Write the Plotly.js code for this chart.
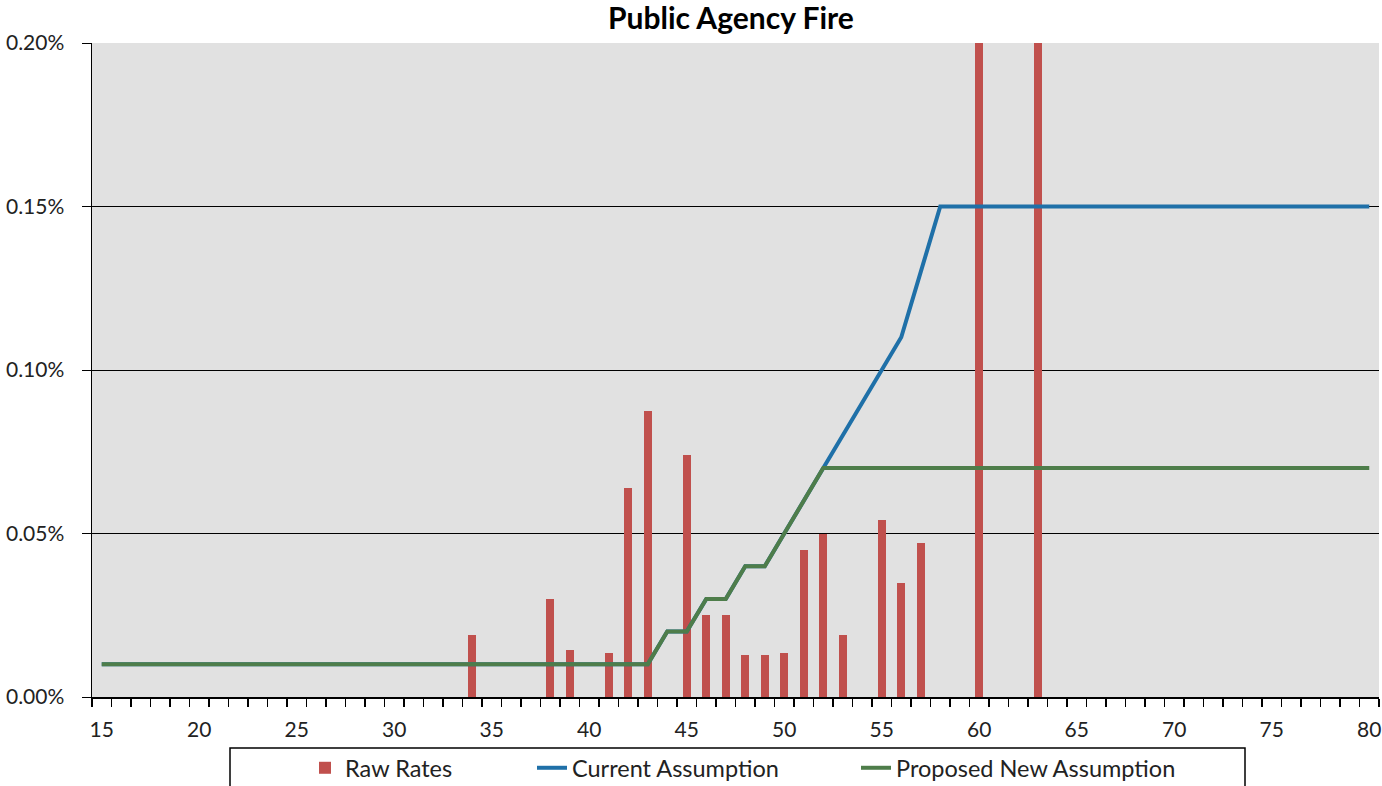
<!DOCTYPE html>
<html>
<head>
<meta charset="utf-8">
<script src="https://cdn.plot.ly/plotly-3.0.1.min.js"></script>
<style>html,body{margin:0;padding:0;background:#fff;}#chart{width:1382px;height:786px;}</style>
</head>
<body>
<div id="chart"></div>
<script>
// Ages (x categories)
const ages = [15,16,17,18,19,20,21,22,23,24,25,26,27,28,29,30,31,32,33,34,35,36,37,38,39,40,41,42,43,44,45,46,47,48,49,50,51,52,53,54,55,56,57,58,59,60,61,62,63,64,65,66,67,68,69,70,71,72,73,74,75,76,77,78,79,80];

// Raw rates (only ages with observed rates)
const rawAges  = [34, 38, 39, 41, 42, 43, 45, 46, 47, 48, 49, 50, 51, 52, 53, 55, 56, 57, 60, 63];
const rawRates = [0.00019, 0.00030, 0.000145, 0.000135, 0.00064, 0.000875, 0.00074, 0.00025, 0.00025, 0.000128, 0.000128, 0.000135, 0.00045, 0.00050, 0.00019, 0.00054, 0.00035, 0.00047, 0.0025, 0.0025];

// Current assumption
const currentAssumption = [
  0.0001,0.0001,0.0001,0.0001,0.0001,0.0001,0.0001,0.0001,0.0001,0.0001, // 15-24
  0.0001,0.0001,0.0001,0.0001,0.0001,0.0001,0.0001,0.0001,0.0001,0.0001, // 25-34
  0.0001,0.0001,0.0001,0.0001,0.0001,0.0001,0.0001,0.0001,0.0001,0.0002, // 35-44
  0.0002,0.0003,0.0003,0.0004,0.0004,0.0005,0.0006,0.0007,0.0008,0.0009, // 45-54
  0.0010,0.0011,0.0013,0.0015,0.0015,0.0015,0.0015,0.0015,0.0015,0.0015, // 55-64
  0.0015,0.0015,0.0015,0.0015,0.0015,0.0015,0.0015,0.0015,0.0015,0.0015, // 65-74
  0.0015,0.0015,0.0015,0.0015,0.0015,0.0015                              // 75-80
];

// Proposed new assumption
const proposedAssumption = [
  0.0001,0.0001,0.0001,0.0001,0.0001,0.0001,0.0001,0.0001,0.0001,0.0001, // 15-24
  0.0001,0.0001,0.0001,0.0001,0.0001,0.0001,0.0001,0.0001,0.0001,0.0001, // 25-34
  0.0001,0.0001,0.0001,0.0001,0.0001,0.0001,0.0001,0.0001,0.0001,0.0002, // 35-44
  0.0002,0.0003,0.0003,0.0004,0.0004,0.0005,0.0006,0.0007,0.0007,0.0007, // 45-54
  0.0007,0.0007,0.0007,0.0007,0.0007,0.0007,0.0007,0.0007,0.0007,0.0007, // 55-64
  0.0007,0.0007,0.0007,0.0007,0.0007,0.0007,0.0007,0.0007,0.0007,0.0007, // 65-74
  0.0007,0.0007,0.0007,0.0007,0.0007,0.0007                              // 75-80
];

const xTickVals = [15,20,25,30,35,40,45,50,55,60,65,70,75,80];
const yTickVals = [0, 0.0005, 0.0010, 0.0015, 0.0020];
const yTickText = ['0.00%','0.05%','0.10%','0.15%','0.20%'];

const FONT = 'Lato, "Open Sans", sans-serif';
const W = 1382, H = 786;
const M = {l: 92, r: 3, t: 43, b: 89, autoexpand:false};
const PW = W - M.l - M.r, PH = H - M.t - M.b;
const px2x = p => (p - M.l) / PW;
const py2y = p => (H - M.b - p) / PH;

const traces = [
  {type:'bar', x: rawAges, y: rawRates, name:'Raw Rates', width:0.41,
   marker:{color:'#C0504D'}, legend:'legend', cliponaxis:true},
  {type:'scatter', mode:'lines', x: ages, y: currentAssumption, name:'Current Assumption',
   line:{color:'#1F70A8', width:4}, legend:'legend2'},
  {type:'scatter', mode:'lines', x: ages, y: proposedAssumption, name:'Proposed New Assumption',
   line:{color:'#4E7D4A', width:4}, legend:'legend3'}
];

const legBase = {orientation:'h', yanchor:'middle', xanchor:'left', y: py2y(768),
  bgcolor:'rgba(0,0,0,0)', borderwidth:0, font:{family:FONT, size:23.5, color:'#222'}};

const layout = {
  width: W, height: H,
  margin: M,
  paper_bgcolor:'#ffffff',
  plot_bgcolor:'#E1E1E1',
  title:{text:'<b>Public Agency Fire</b>', font:{family:FONT, size:30, color:'#000'},
         xref:'container', x: 731/W, xanchor:'center', yref:'container', y: 1 - 18/H, yanchor:'middle'},
  showlegend:true,
  legend: Object.assign({}, legBase, {x: px2x(348 - 43)}),
  legend2: Object.assign({}, legBase, {x: px2x(575 - 43)}),
  legend3: Object.assign({}, legBase, {x: px2x(899 - 43)}),
  xaxis:{
    range:[14.5, 80.5], tickmode:'array', tickvals: xTickVals, ticktext: xTickVals.map(String),
    ticks:'', showgrid:false, zeroline:false,
    showline:true, linecolor:'#000', linewidth:1.5,
    tickfont:{family:FONT, size:21, color:'#222'}, ticklabelstandoff:13,
    minor:{ticks:'outside', ticklen:8, tickcolor:'#000', tickwidth:1.5, tick0:14.5, dtick:1, showgrid:false}
  },
  yaxis:{
    range:[0, 0.002], tickmode:'array', tickvals: yTickVals, ticktext: yTickText,
    ticks:'outside', ticklen:9, tickcolor:'#000', tickwidth:1,
    showgrid:true, gridcolor:'#000', gridwidth:1, zeroline:false,
    showline:true, linecolor:'#000', linewidth:1.5,
    tickfont:{family:FONT, size:21, color:'#222'}, ticklabelstandoff:13
  },
  shapes:[
    {type:'rect', xref:'paper', yref:'paper', x0: px2x(230), x1: px2x(1245), y0: py2y(748), y1: py2y(792),
     line:{color:'#000', width:1.5}, fillcolor:'rgba(0,0,0,0)', layer:'above'}
  ],
  bargap:0
};

Plotly.newPlot('chart', traces, layout, {displayModeBar:false, staticPlot:true});
</script>
</body>
</html>
